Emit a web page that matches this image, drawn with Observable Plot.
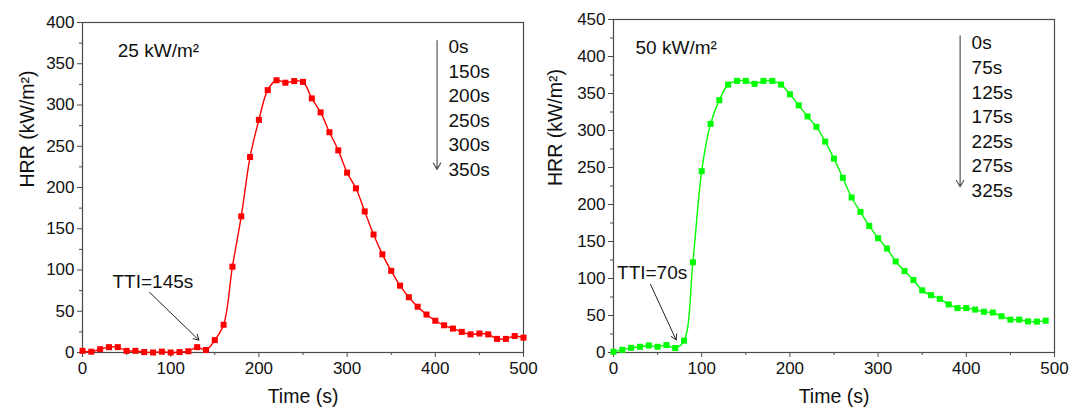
<!DOCTYPE html>
<html>
<head>
<meta charset="utf-8">
<script src="https://cdn.jsdelivr.net/npm/d3@7"></script>
<script src="https://cdn.jsdelivr.net/npm/@observablehq/plot@0.6"></script>
<style>
  html, body { margin: 0; padding: 0; background: #fff; }
  #wrap { display: flex; width: 1070px; height: 409px; }
  svg { font-family: "Liberation Sans", Arial, sans-serif; overflow: visible; }
  g[aria-label$="tick label"], g[aria-label$="tick label"] text { font-size: 17px !important; fill: #111; }
</style>
</head>
<body>
<div id="wrap"></div>
<script>
// ---- data ----
const time25 = [0,10,20,30,40,50,60,70,80,90,100,110,120,130,140,150,160,170,180,190,200,210,220,230,240,250,260,270,280,290,300,310,320,330,340,350,360,370,380,390,400,410,420,430,440,450,460,470,480,490,500];
const hrr25 = [2,1,4,6.5,6.5,2,2,0.5,0,1,0,0.5,1.5,6.5,3,15,33.6,104,165,237,282,318,330,327,329,328,308,291,267,245,218,199,171,143,119,99,81,67,55.5,46,38.5,33,29,25,22,23,22,16.5,16.5,20,18];
const time50 = [0,10,20,30,40,50,60,70,80,90,100,110,120,130,140,150,160,170,180,190,200,210,220,230,240,250,260,270,280,290,300,310,320,330,340,350,360,370,380,390,400,410,420,430,440,450,460,470,480,490];
const hrr50 = [1,3.6,6.3,7.7,9.5,7.7,10,6,16,122,245,309,341,362,367,367,363,367,367,362,349,334,319,305,285,262,236,209.5,190,171,154.5,140.5,123,110,98,84,77.5,72.5,65,60,60,58,55,54,49,44.4,44.4,42,41.7,43];
const times25Labels = ["0s","150s","200s","250s","300s","350s"];
const times50Labels = ["0s","75s","125s","175s","225s","275s","325s"];
const xTicks = [0,100,200,300,400,500];
const xMinor = [50,150,250,350,450];
const yTicks25 = [0,50,100,150,200,250,300,350,400];
const yMinor25 = [25,75,125,175,225,275,325,375];
const yTicks50 = [0,50,100,150,200,250,300,350,400,450];
const yMinor50 = [25,75,125,175,225,275,325,375,425];
const xLabel = "Time (s)";
const yLabel = "HRR (kW/m²)";

const AX = "#4a4a4a";

function panel(o) {
  const rows = o.time.map((t, i) => ({t, v: o.hrr[i]}));
  return Plot.plot({
    width: o.w, height: 409,
    marginLeft: o.ml, marginRight: o.mr, marginTop: o.mt, marginBottom: 57,
    style: {fontFamily: '"Liberation Sans", Arial, sans-serif', fontSize: "17px", color: "#111", background: "#fff", overflow: "visible"},
    x: {domain: [0, 500], label: null},
    y: {domain: [0, o.ymax], label: null},
    marks: [
      Plot.frame({stroke: AX, strokeWidth: 1.2}),
      Plot.axisX(xTicks, {tickSize: 5, stroke: AX, tickPadding: 4, label: null}),
      Plot.axisX(xMinor, {tickSize: 3, stroke: AX, text: null, label: null}),
      Plot.axisY(o.yTicks, {tickSize: 5, stroke: AX, tickPadding: 3, label: null}),
      Plot.axisY(o.yMinor, {tickSize: 3, stroke: AX, text: null, label: null}),
      Plot.text([xLabel], {frameAnchor: "bottom", dy: 50, text: d => d, fontSize: 19.5, fill: "#111"}),
      Plot.text([yLabel], {frameAnchor: "left", dx: -o.lo, rotate: -90, text: d => d, fontSize: 19.5, fill: "#111"}),
      Plot.line(rows, {x: "t", y: "v", stroke: o.color, strokeWidth: 1.4, curve: "catmull-rom"}),
      Plot.dot(rows, {x: "t", y: "v", symbol: "square", fill: o.color, r: 3.4}),
      Plot.text([o.title], {x: o.titleX, y: o.titleY, text: d => d, textAnchor: "start", fontSize: 19, fill: "#111"}),
      Plot.text([o.tti], {x: o.ttiX, y: o.ttiY, text: d => d, textAnchor: "start", fontSize: 19, fill: "#111"}),
      Plot.arrow([o.tti], {x1: o.a1[0], y1: o.a1[1], x2: o.a2[0], y2: o.a2[1], stroke: "#222", strokeWidth: 1, headLength: 9}),
      Plot.arrow([0], {x1: o.v[0], y1: o.v[1], x2: o.v[0], y2: o.v[2], stroke: "#555", strokeWidth: 1.2, headLength: 9}),
      Plot.text([o.labels.join("\n")], {x: o.lx, y: o.ly, text: d => d, textAnchor: "start", lineAnchor: "top", lineHeight: 1.29, fontSize: 19, fill: "#111"})
    ]
  });
}

const wrap = document.getElementById("wrap");
wrap.append(panel({
  w: 540,
  time: time25, hrr: hrr25, color: "#ff0000", ymax: 400,
  ml: 82, mr: 17, mt: 22, lo: 55,
  yTicks: yTicks25, yMinor: yMinor25,
  title: "25 kW/m²", titleX: 40, titleY: 365,
  tti: "TTI=145s", ttiX: 34, ttiY: 85,
  a1: [76, 73], a2: [132, 15],
  v: [402, 378, 222],
  labels: times25Labels, lx: 415, ly: 384
}));
wrap.append(panel({
  w: 530,
  time: time50, hrr: hrr50, color: "#00ff00", ymax: 450,
  ml: 73, mr: 16, mt: 19, lo: 58,
  yTicks: yTicks50, yMinor: yMinor50,
  title: "50 kW/m²", titleX: 25, titleY: 411,
  tti: "TTI=70s", ttiX: 4, ttiY: 108,
  a1: [42, 92], a2: [71, 17],
  v: [393, 428, 224],
  labels: times50Labels, lx: 406, ly: 433
}));
</script>
</body>
</html>
